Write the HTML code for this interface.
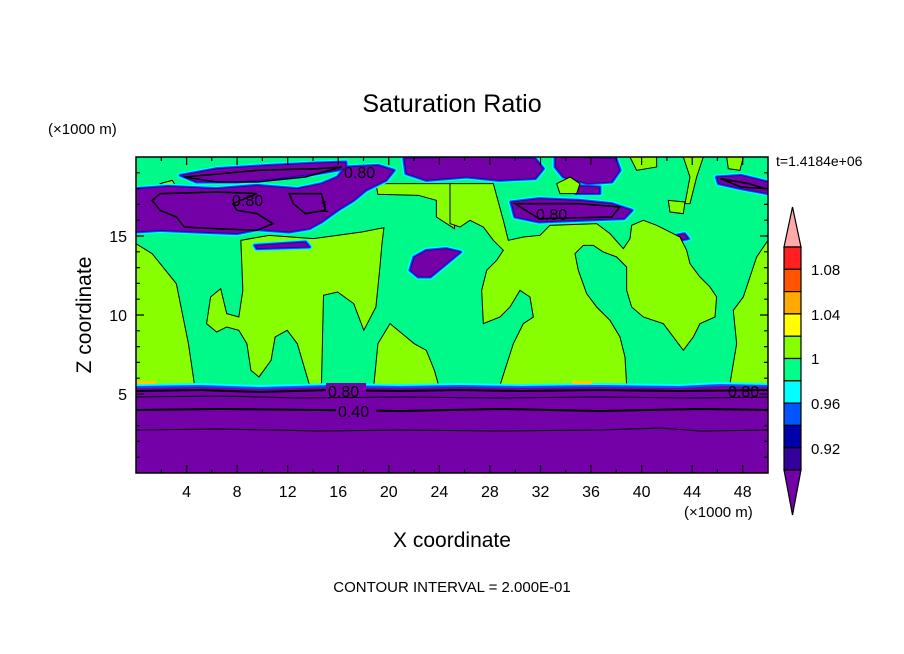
<!DOCTYPE html>
<html><head><meta charset="utf-8"><style>
html,body{margin:0;padding:0;background:#fff;}
svg{display:block;font-family:"Liberation Sans",sans-serif;}
</style></head><body>
<svg width="904" height="654" viewBox="0 0 904 654" xmlns="http://www.w3.org/2000/svg">
<defs><clipPath id="c"><rect x="136" y="157" width="632" height="316"/></clipPath>
<g id="purp">
<polygon points="0,95 80,88 200,95 300,85 400,95 460,80 500,60 520,30 600,25 640,40 620,70 570,100 540,130 500,160 460,195 430,215 380,225 300,218 250,230 150,225 60,220 0,225"/>
<polygon points="110,55 200,35 330,25 450,18 520,15 520,35 450,50 350,65 250,75 150,75"/>
<polygon points="665,5 820,0 990,5 1010,35 990,65 900,70 820,60 720,70 670,50"/>
<polygon points="1040,0 1190,5 1200,40 1180,75 1120,80 1060,60 1040,30"/>
<polygon points="930,135 1000,125 1100,130 1180,140 1230,160 1210,185 1100,190 1000,195 940,180"/>
<polygon points="1440,60 1500,55 1568,75 1568,110 1500,95 1445,80"/>
<polygon points="690,300 720,280 770,275 805,285 780,310 760,330 730,360 700,360 680,340"/>
<polygon points="1080,85 1150,90 1150,110 1090,110"/>
<polygon points="1320,240 1360,230 1370,245 1330,255"/>
<polygon points="295,265 420,255 430,270 300,275"/>
</g>
</defs>
<rect width="904" height="654" fill="#fff"/>
<g clip-path="url(#c)">
<rect x="136" y="157" width="632" height="316" fill="#00fa8a"/>
<g transform="translate(136,157) scale(0.4032,0.3333)" stroke="#000" stroke-width="1">
<g fill="#88ff00">
<polygon vector-effect="non-scaling-stroke" points="0,260 40,290 100,380 115,470 130,560 145,683 0,683"/>
<polygon vector-effect="non-scaling-stroke" points="175,500 185,420 210,395 225,470 255,480 265,400 260,250 330,235 440,245 560,225 615,212 610,260 605,330 595,450 565,520 540,440 500,405 465,415 460,683 430,683 400,560 375,520 345,540 335,610 305,660 285,640 275,560 255,520 225,510 200,525"/>
<polygon vector-effect="non-scaling-stroke" points="590,683 600,560 630,500 660,530 690,560 720,580 740,640 750,683"/>
<polygon vector-effect="non-scaling-stroke" points="595,80 790,80 790,215 745,180 745,130 700,115 600,112"/>
<polygon vector-effect="non-scaling-stroke" points="60,80 90,70 100,90 70,95"/>
<polygon vector-effect="non-scaling-stroke" points="220,88 340,90 350,105 225,105"/>
</g>
<use href="#purp" fill="#00ffff" stroke="#00ffff" stroke-width="16" stroke-linejoin="round"/>
<use href="#purp" fill="#0055ff" stroke="#0055ff" stroke-width="9" stroke-linejoin="round"/>
<use href="#purp" fill="#7400a8" stroke="#330099" stroke-width="3" stroke-linejoin="round"/>
<g fill="none" stroke="#000" stroke-width="1.6">
<path vector-effect="non-scaling-stroke" d="M60,110 L200,105 L300,110 L240,140 L250,160 L300,170 L340,200 L300,220 L200,215 L120,210 L100,180 L60,160 L40,130 Z"/>
<path vector-effect="non-scaling-stroke" d="M120,60 L300,40 L450,35 L510,30 L420,60 L300,75 L200,75 Z"/>
<path vector-effect="non-scaling-stroke" d="M940,140 L1100,140 L1200,150 L1180,180 L1000,185 Z"/>
<path vector-effect="non-scaling-stroke" d="M1450,65 L1520,80 L1560,95 L1500,90 Z"/>
<path vector-effect="non-scaling-stroke" d="M380,110 L460,110 L470,160 L420,170 L390,140 Z"/>
</g>
</g>
<g transform="translate(450,157) scale(0.3333)">
<g fill="#88ff00" stroke="#000" stroke-width="1">
<polygon vector-effect="non-scaling-stroke" points="0,80 130,80 160,190 175,250 220,240 270,235 300,205 440,200 480,230 520,275 540,245 545,205 580,190 620,205 650,220 690,240 710,280 720,320 750,360 780,390 800,420 795,480 750,500 730,540 700,580 670,540 640,500 580,480 545,450 530,400 530,330 500,300 460,285 430,265 400,265 375,290 385,340 410,410 440,450 480,490 510,540 525,600 530,685 150,685 190,560 220,500 250,480 240,420 210,400 180,450 150,480 100,500 95,400 110,340 140,310 160,280 130,250 100,210 60,190 30,210 0,200"/>
<polygon vector-effect="non-scaling-stroke" points="840,680 860,560 850,460 880,420 900,360 920,300 954,250 954,680"/>
<polygon vector-effect="non-scaling-stroke" points="540,0 620,0 620,30 560,40"/>
<polygon vector-effect="non-scaling-stroke" points="700,0 760,0 740,60 720,140 705,140 720,60"/>
<polygon vector-effect="non-scaling-stroke" points="830,0 880,0 870,40 835,35"/>
<polygon vector-effect="non-scaling-stroke" points="655,130 705,135 700,170 660,165"/>
<polygon vector-effect="non-scaling-stroke" points="320,80 360,60 390,80 380,110 330,110"/>
</g>
</g>
<path d="M136,384 L200,383 L260,385 L330,383 L400,384 L460,383 L520,384 L600,383 L680,384 L720,382 L768,383 L768,473 L136,473 Z" fill="#00ffff"/>
<path d="M136,386 L200,385 L260,387 L330,385 L400,386 L460,385 L520,386 L600,385 L680,386 L720,384 L768,385 L768,473 L136,473 Z" fill="#0055ff"/>
<path d="M136,388 L200,387 L260,389 L330,387 L400,388 L460,387 L520,388 L600,387 L680,388 L720,386 L768,387 L768,473 L136,473 Z" fill="#7400a8"/>
<rect x="136" y="381" width="20" height="3" fill="#ffcc00"/>
<rect x="572" y="381" width="20" height="3" fill="#ffcc00"/>
<g fill="none" stroke="#000">
<path d="M136,391 L200,390 L260,392 L330,390 L400,391 L460,390 L520,391 L600,390 L680,391 L768,390" stroke-width="2"/>
<path d="M136,397 L220,396 L300,398 L400,397 L500,398 L600,397 L700,398 L768,397" stroke-width="1"/>
<path d="M136,410 L220,409 L320,410 L400,411 L500,409 L600,411 L700,409 L768,410" stroke-width="2"/>
<path d="M136,430 L220,429 L320,431 L400,430 L500,431 L600,430 L660,428 L700,431 L768,430" stroke-width="1"/>
</g>
</g>
<g font-size="16" fill="#000">
<rect x="326" y="383" width="40" height="14" fill="#7400a8"/>
<text x="328" y="397">0.80</text>
<rect x="336" y="403" width="40" height="14" fill="#7400a8"/>
<text x="338" y="417">0.40</text>
<text x="728" y="397">0.80</text>
<text x="344" y="178">0.80</text>
<text x="232" y="206">0.80</text>
<text x="320" y="212">1</text>
<text x="536" y="220">0.80</text>
</g>
<rect x="136" y="157" width="632" height="316" fill="none" stroke="#000" stroke-width="1.5"/>
<g stroke="#000" stroke-width="1.2">
<path d="M161.3,473v-4M186.6,473v-8M211.8,473v-4M237.1,473v-8M262.4,473v-4M287.7,473v-8M313,473v-4M338.2,473v-8M363.5,473v-4M388.8,473v-8M414.1,473v-4M439.4,473v-8M464.6,473v-4M489.9,473v-8M515.2,473v-4M540.5,473v-8M565.8,473v-4M591,473v-8M616.3,473v-4M641.6,473v-8M666.9,473v-4M692.2,473v-8M717.4,473v-4M742.7,473v-8"/>
<path d="M161.3,157v4M186.6,157v8M211.8,157v4M237.1,157v8M262.4,157v4M287.7,157v8M313,157v4M338.2,157v8M363.5,157v4M388.8,157v8M414.1,157v4M439.4,157v8M464.6,157v4M489.9,157v8M515.2,157v4M540.5,157v8M565.8,157v4M591,157v8M616.3,157v4M641.6,157v8M666.9,157v4M692.2,157v8M717.4,157v4M742.7,157v8"/>
<path d="M136,457.2h4M136,441.4h4M136,425.6h4M136,409.8h4M136,394h8M136,378.2h4M136,362.4h4M136,346.6h4M136,330.8h4M136,315h8M136,299.2h4M136,283.4h4M136,267.6h4M136,251.8h4M136,236h8M136,220.2h4M136,204.4h4M136,188.6h4M136,172.8h4"/>
<path d="M768,457.2h-4M768,441.4h-4M768,425.6h-4M768,409.8h-4M768,394h-8M768,378.2h-4M768,362.4h-4M768,346.6h-4M768,330.8h-4M768,315h-8M768,299.2h-4M768,283.4h-4M768,267.6h-4M768,251.8h-4M768,236h-8M768,220.2h-4M768,204.4h-4M768,188.6h-4M768,172.8h-4"/>
</g>
<text x="452" y="112" font-size="25" text-anchor="middle">Saturation Ratio</text>
<text x="48" y="134" font-size="15">(×1000 m)</text>
<text x="776" y="166" font-size="14">t=1.4184e+06</text>
<g font-size="16" text-anchor="end">
<text x="127" y="242">15</text><text x="127" y="321">10</text><text x="127" y="400">5</text>
</g>
<text transform="translate(91,315) rotate(-90)" font-size="21" text-anchor="middle">Z coordinate</text>
<g font-size="16" text-anchor="middle">
<text x="186.6" y="497">4</text><text x="237.1" y="497">8</text><text x="287.7" y="497">12</text><text x="338.2" y="497">16</text><text x="388.8" y="497">20</text><text x="439.4" y="497">24</text><text x="489.9" y="497">28</text><text x="540.5" y="497">32</text><text x="591" y="497">36</text><text x="641.6" y="497">40</text><text x="692.2" y="497">44</text><text x="742.7" y="497">48</text>
</g>
<text x="684" y="517" font-size="15">(×1000 m)</text>
<text x="452" y="547" font-size="21" text-anchor="middle">X coordinate</text>
<text x="452" y="592" font-size="15" text-anchor="middle">CONTOUR INTERVAL = 2.000E-01</text>
<g stroke="#000" stroke-width="1.2">
<polygon points="784,247 801,247 792.5,207" fill="#ffaaaa"/>
<rect x="784" y="247" width="17" height="22.3" fill="#ff2020"/>
<rect x="784" y="269.3" width="17" height="22.3" fill="#ff5500"/>
<rect x="784" y="291.6" width="17" height="22.3" fill="#ffaa00"/>
<rect x="784" y="313.9" width="17" height="22.3" fill="#ffff00"/>
<rect x="784" y="336.2" width="17" height="22.3" fill="#88ff00"/>
<rect x="784" y="358.5" width="17" height="22.3" fill="#00ff88"/>
<rect x="784" y="380.8" width="17" height="22.3" fill="#00ffff"/>
<rect x="784" y="403.1" width="17" height="22.3" fill="#0055ff"/>
<rect x="784" y="425.4" width="17" height="22.3" fill="#0000aa"/>
<rect x="784" y="447.7" width="17" height="22.3" fill="#330099"/>
<polygon points="784,470 801,470 792.5,515" fill="#7400a8"/>
</g>
<g font-size="15">
<text x="811" y="275">1.08</text><text x="811" y="320">1.04</text><text x="811" y="364">1</text><text x="811" y="409">0.96</text><text x="811" y="454">0.92</text>
</g>
</svg>
</body></html>
